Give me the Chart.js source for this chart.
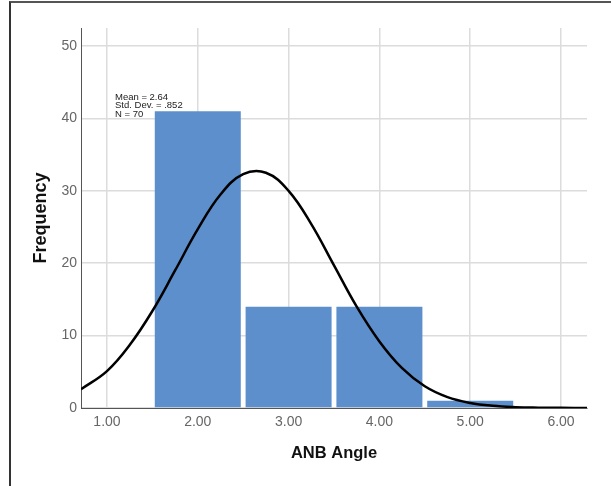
<!DOCTYPE html>
<html>
<head>
<meta charset="utf-8">
<script src="https://cdn.jsdelivr.net/npm/chart.js@4/dist/chart.umd.min.js"></script>
<style>
  html, body { margin: 0; padding: 0; background: #fff; }
  #wrap { position: relative; width: 611px; height: 486px; }
  #frame {
    position: absolute; left: 9px; top: 1px; right: 0; bottom: 0;
    border-top: 2px solid #555; border-left: 2px solid #333;
    pointer-events: none;
  }
</style>
</head>
<body>
<div id="wrap">
  <canvas id="hist" width="611" height="486"></canvas>
  <div id="frame"></div>
</div>
<script>
// histogram bins (bin centres) and counts
const binCenters = [2, 3, 4, 5];
const binCounts = [41, 14, 14, 1];

// normal curve
const curveX = [0.714, 1.0, 1.25, 1.5, 1.75, 2.0, 2.25, 2.5, 2.75, 3.0, 3.25, 3.5, 3.75, 4.0, 4.25, 4.5, 4.75, 5.0, 5.25, 5.5, 5.75, 6.0, 6.286];
const curveY = [2.6, 5.1, 8.7, 13.4, 19.0, 24.7, 29.5, 32.3, 32.5, 30.0, 25.4, 19.7, 14.0, 9.2, 5.5, 3.0, 1.5, 0.7, 0.3, 0.12, 0.05, 0.02, 0.0];

const xTicks = [1, 2, 3, 4, 5, 6];
const yTicks = [0, 10, 20, 30, 40, 50];
const statsLines = ['Mean = 2.64', 'Std. Dev. = .852', 'N = 70'];

const statsBox = {
    id: 'statsBox',
    afterDraw(chart){
        const ctx = chart.ctx;
        ctx.save();
        ctx.font = '9.5px "Liberation Sans", Arial, sans-serif';
        ctx.fillStyle = '#222';
        ctx.textBaseline = 'middle';
        statsLines.forEach((t, i) => ctx.fillText(t, 115, 97 + i * 8.8));
        ctx.restore();
    }
};

new Chart(document.getElementById('hist'), {
    type: 'bar',
    data: {
        datasets: [{
            type: 'line',
            data: curveX.map((x, i) => ({x: x, y: curveY[i]})),
            borderColor: '#000',
            borderWidth: 2.5,
            pointRadius: 0,
            tension: 0.4,
            order: 0
        }, {
            data: binCenters.map((x, i) => ({x: x, y: binCounts[i]})),
            backgroundColor: '#5d8fcc',
            borderWidth: 0,
            barPercentage: 0.947,
            categoryPercentage: 1,
            order: 1
        }]
    },
    options: {
        responsive: false,
        animation: false,
        layout: {padding: {left: 0, top: 28, right: 24, bottom: 0}},
        plugins: {legend: {display: false}, tooltip: {enabled: false}},
        scales: {
            x: {
                type: 'linear',
                offset: false,
                min: 0.714,
                max: 6.286,
                afterBuildTicks: axis => { axis.ticks = xTicks.map(v => ({value: v})); },
                afterFit: axis => { axis.height = 78; },
                grid: {color: '#dcdcdc', lineWidth: 1.5, drawTicks: false, offset: false},
                border: {color: '#555', width: 1},
                ticks: {
                    padding: 6,
                    color: '#666',
                    font: {family: 'Liberation Sans', size: 14},
                    callback: v => v.toFixed(2)
                },
                title: {
                    display: true,
                    text: 'ANB Angle',
                    color: '#111',
                    font: {family: 'Liberation Sans', size: 16.5, weight: 'bold'},
                    padding: {bottom: 23}
                }
            },
            y: {
                min: 0,
                max: 52.5,
                afterBuildTicks: axis => { axis.ticks = yTicks.map(v => ({value: v})); },
                afterFit: axis => { axis.width = 81; },
                grid: {color: '#dcdcdc', lineWidth: 1.5, drawTicks: false},
                border: {color: '#555', width: 1},
                ticks: {
                    padding: 4,
                    color: '#666',
                    font: {family: 'Liberation Sans', size: 14}
                },
                title: {
                    display: true,
                    text: 'Frequency',
                    color: '#111',
                    font: {family: 'Liberation Sans', size: 18, weight: 'bold'},
                    padding: {top: 30}
                }
            }
        }
    },
    plugins: [statsBox]
});
</script>
</body>
</html>
